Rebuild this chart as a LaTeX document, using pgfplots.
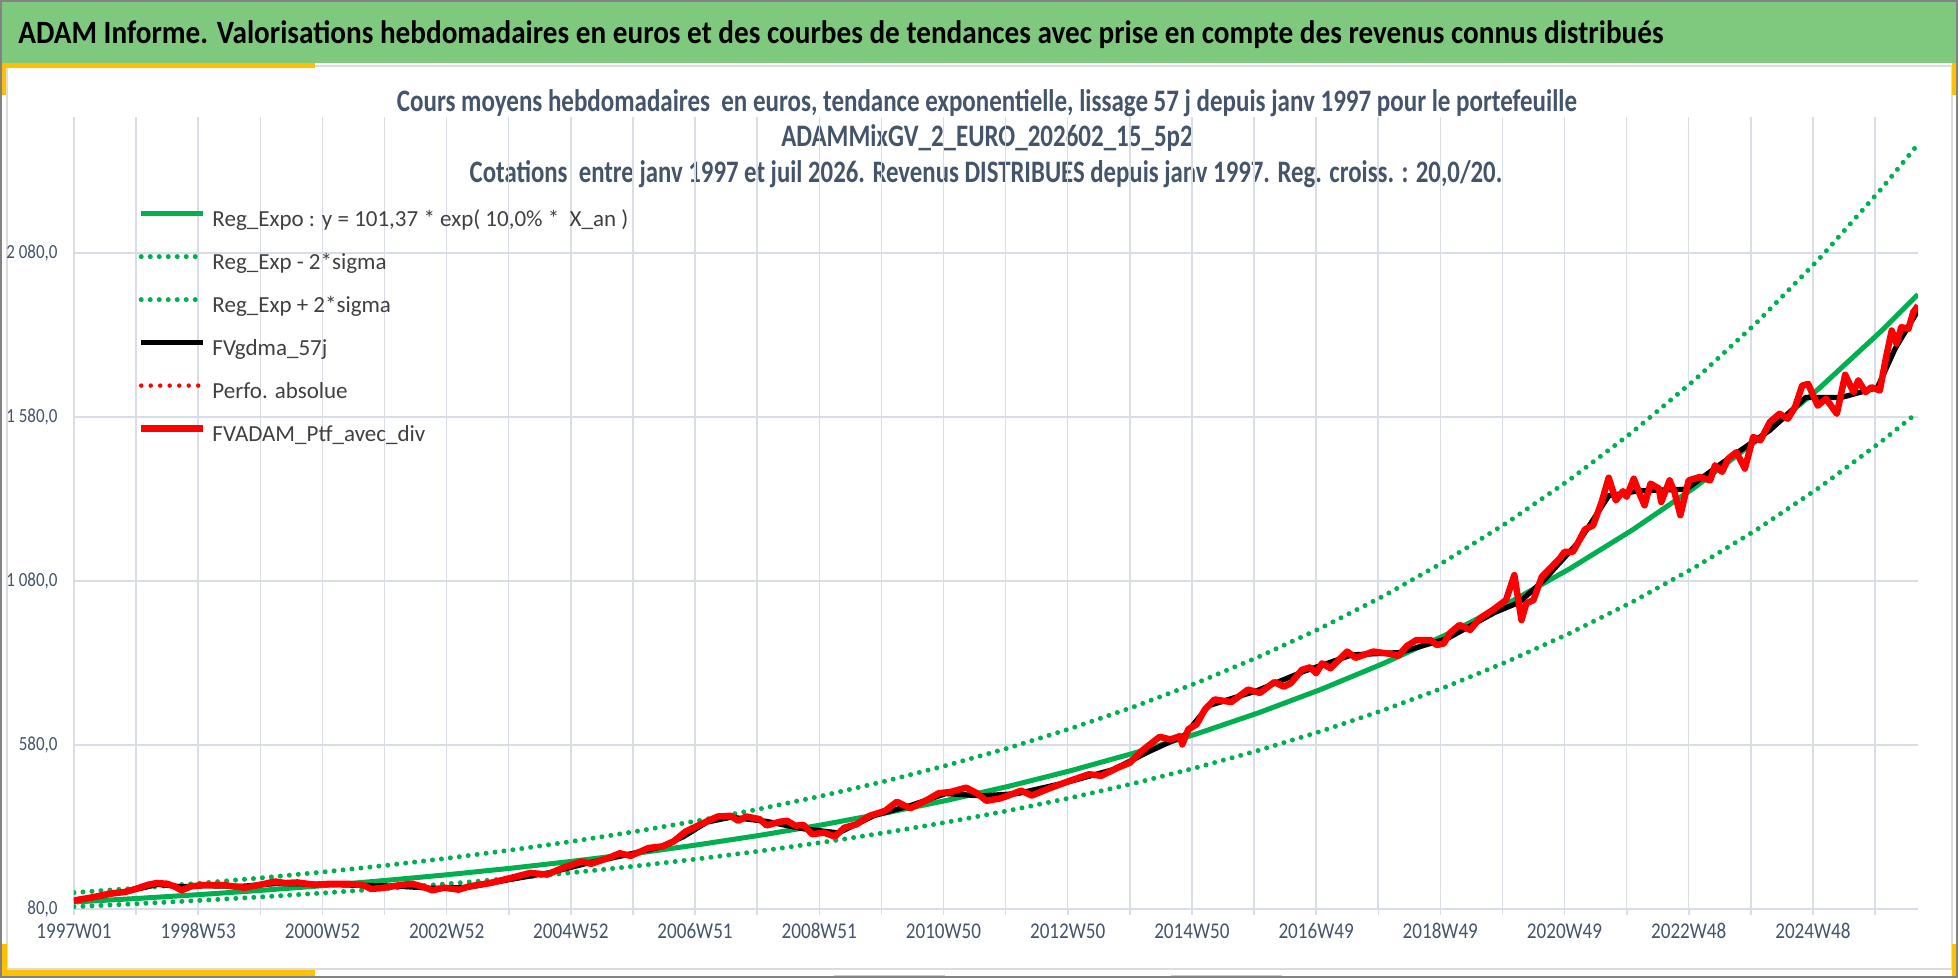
\documentclass[border=0pt]{standalone}
\usepackage{pgfplots}
\pgfplotsset{compat=1.18}
\usepackage{pgfplotstable}
\usepackage{graphicx}
\usepackage{fontspec}
\setmainfont{Carlito}
\newfontfamily\tickfont{Carlito}[FakeStretch=0.85]

\definecolor{bannergreen}{RGB}{127,201,127}
\definecolor{gold}{RGB}{255,192,0}
\definecolor{paleyellow}{RGB}{225,215,80}
\definecolor{gridc}{RGB}{217,221,229}
\definecolor{titlec}{RGB}{68,84,106}
\definecolor{legc}{RGB}{64,64,64}
\definecolor{xlgreen}{RGB}{0,176,80}
\definecolor{framec}{RGB}{130,130,130}
\definecolor{panelc}{RGB}{220,220,220}

\pgfplotstableread{
x y
0 101.37
52.18 112.03
104.36 123.81
156.54 136.83
208.72 151.23
260.9 167.13
313.08 184.71
365.26 204.13
417.44 225.60
469.62 249.33
521.8 275.55
573.98 304.53
626.16 336.56
678.34 371.96
730.52 411.07
782.7 454.31
834.88 502.09
887.06 554.89
939.24 613.25
991.42 677.75
1043.6 749.03
1095.78 827.80
1147.96 914.85
1200.14 1011.07
1252.32 1117.42
1304.5 1234.94
1356.68 1364.82
1408.86 1508.36
1461.04 1666.99
1513.22 1842.31
1544 1954.2
}\tblTrend

\pgfplotstableread{
x y
0 87.0
52.18 96.0
104.36 105.9
156.54 116.8
208.72 128.9
260.9 142.2
313.08 156.9
365.26 173.1
417.44 191.0
469.62 210.7
521.8 232.5
573.98 256.5
626.16 283.0
678.34 312.3
730.52 344.5
782.7 380.1
834.88 419.4
887.06 462.7
939.24 510.5
991.42 563.2
1043.6 621.4
1095.78 685.6
1147.96 756.4
1200.14 834.5
1252.32 920.7
1304.5 1015.8
1356.68 1120.8
1408.86 1236.6
1461.04 1364.3
1513.22 1505.2
1544 1595.0
}\tblLow

\pgfplotstableread{
x y
0 130.0
52.18 143.5
104.36 158.4
156.54 174.8
208.72 192.9
260.9 212.9
313.08 235.0
365.26 259.4
417.44 286.3
469.62 316.0
521.8 348.8
573.98 385.0
626.16 424.9
678.34 469.0
730.52 517.7
782.7 571.4
834.88 630.7
887.06 696.1
939.24 768.3
991.42 848.0
1043.6 936.0
1095.78 1033.1
1147.96 1140.3
1200.14 1258.6
1252.32 1389.1
1304.5 1533.2
1356.68 1692.3
1408.86 1867.9
1461.04 2061.6
1513.22 2275.5
1544 2412.2
}\tblUp

\pgfplotstableread{
x y
0 105
26 122
52 140
70 155
90 148
110 151
140 149
170 158
200 156
240 152
270 150
300 143
330 146
365 170
400 192
430 220
460 243
490 268
510 300
530 345
550 360
580 347
610 325
640 312
670 365
700 395
730 432
760 425
790 432
830 465
870 505
900 560
930 610
950 700
990 745
1030 805
1070 855
1110 862
1150 905
1190 985
1210 1015
1230 1080
1260 1200
1285 1340
1310 1355
1350 1360
1380 1440
1420 1540
1450 1640
1480 1640
1510 1670
1525 1790
1544 1905
}\tblSmooth

\pgfplotstableread{
x y
0 106
16 116
30 127
43 132
54 144
62 154
69 159
78 157
84 149
90 137
98 149
108 153
126 153
133 149
143 145
153 152
160 157
168 164
177 159
187 161
201 154
215 157
228 157
242 153
249 141
262 146
273 153
283 157
293 147
300 137
310 145
322 139
331 149
348 159
365 174
382 190
396 185
409 205
425 225
433 218
447 235
457 250
466 242
481 266
493 271
502 286
512 316
524 337
531 349
539 362
550 364
556 349
563 362
574 354
580 335
591 346
597 349
604 334
611 336
618 308
628 313
637 301
645 328
655 338
666 364
679 379
689 407
700 387
713 410
724 433
734 437
747 450
756 433
764 410
775 417
781 424
793 441
802 426
816 447
833 470
850 491
860 486
874 511
884 526
894 562
909 605
918 597
926 607
928 582
933 628
940 643
947 689
955 719
969 711
983 749
993 739
1005 772
1013 758
1019 769
1028 809
1035 817
1040 799
1045 829
1052 814
1066 865
1073 846
1088 865
1102 858
1109 852
1116 882
1124 900
1136 900
1141 885
1147 890
1152 921
1160 946
1169 931
1177 966
1188 992
1199 1022
1206 1098
1212 961
1216 1012
1222 1022
1229 1093
1236 1119
1244 1149
1248 1169
1255 1169
1259 1195
1265 1237
1272 1250
1279 1320
1285 1395
1291 1326
1297 1354
1300 1337
1306 1392
1311 1345
1315 1311
1320 1377
1327 1362
1329 1321
1336 1387
1340 1352
1345 1281
1352 1387
1361 1397
1370 1387
1374 1433
1380 1413
1385 1453
1392 1473
1399 1423
1406 1519
1412 1509
1420 1565
1428 1590
1435 1575
1441 1610
1447 1676
1452 1681
1460 1615
1467 1636
1476 1590
1483 1709
1490 1656
1494 1692
1500 1656
1505 1671
1512 1661
1517 1758
1522 1844
1526 1804
1530 1854
1536 1849
1540 1900
1544 1920
}\tblPtf

\begin{document}
\begin{tikzpicture}
\useasboundingbox (0,0) rectangle (783.2pt,391.2pt);
\begin{scope}[x=0.4pt,y=-0.4pt,yshift=391.2pt]
  \fill[white] (0,0) rectangle (1958,978);
  \fill[bannergreen] (0,0) rectangle (1958,63);
  \draw[panelc, line width=0.6pt] (7,66) rectangle (1952,969);
  \fill[gold] (0,63) rectangle (315,68);
  \fill[gold] (0,63) rectangle (6,95);
  \fill[gold] (0,944) rectangle (7,978);
  \fill[gold] (0,970) rectangle (315,978);
  \fill[gold] (1952,63) rectangle (1958,95);
  \fill[gold] (1952,944) rectangle (1958,978);
  \fill[paleyellow] (834,975) rectangle (945,978);
  \fill[paleyellow] (1171,975) rectangle (1282,978);
  \draw[framec, line width=0.8pt] (1,1) rectangle (1957,977);
  \foreach \k in {0,...,29} \draw[gridc, line width=0.6pt] ({74+62.11*\k},909) -- ({74+62.11*\k},915);
  \node[anchor=base west, inner sep=0pt, text=black] at (18,44)
    {\resizebox{658pt}{\height}{\fontsize{13}{15}\selectfont\bfseries ADAM Informe. Valorisations hebdomadaires en euros et des courbes de tendances avec prise en compte des revenus connus distribués}};
  \node[anchor=base, inner sep=0pt, text=titlec] at (987,111.5)
    {\resizebox{472pt}{\height}{\fontsize{12.5}{14}\selectfont\bfseries Cours moyens hebdomadaires\ \ en euros, tendance exponentielle, lissage 57 j depuis janv 1997 pour le portefeuille}};
  \node[anchor=base, inner sep=0pt, text=titlec] at (987,147)
    {\resizebox{164.6pt}{\height}{\fontsize{12.5}{14}\selectfont\bfseries ADAMMixGV\_2\_EURO\_202602\_15\_5p2}};
  \node[anchor=base, inner sep=0pt, text=titlec] at (986,183)
    {\resizebox{413pt}{\height}{\fontsize{12.5}{14}\selectfont\bfseries Cotations\ \ entre janv 1997 et juil 2026. Revenus DISTRIBUES depuis janv 1997. Reg. croiss. : 20,0/20.}};
\end{scope}

\begin{axis}[
  at={(29.6pt,27.6pt)}, anchor=south west,
  scale only axis, width=737.6pt, height=316.8pt,
  xmin=0, xmax=1544, ymin=80, ymax=2495,
  axis line style={draw=none},
  major tick length=0pt,
  xtick={0,52,...,1508},
  xticklabels={1997W01,,1998W53,,2000W52,,2002W52,,2004W52,,2006W51,,2008W51,,2010W50,,2012W50,,2014W50,,2016W49,,2018W49,,2020W49,,2022W48,,2024W48,},
  ytick={80,580,1080,1580,2080},
  yticklabels={{80,0},{580,0},{1 080,0},{1 580,0},{2 080,0}},
  grid=major,
  grid style={gridc, line width=0.6pt},
  xticklabel style={anchor=north, inner sep=0pt, yshift=-5.6pt, text=titlec, font=\tickfont\fontsize{9}{10.8}\selectfont},
  yticklabel style={anchor=east, inner sep=0pt, xshift=-6.4pt, text=titlec, font=\tickfont\fontsize{8}{9.6}\selectfont},
  legend cell align=left,
  legend image code/.code={\draw[#1] (0pt,2.9pt) -- (24.8pt,2.9pt);},
  legend style={at={(axis description cs:0.0347,0.8823)}, anchor=north west,
    draw=none, fill=none, inner sep=0pt, outer sep=0pt, row sep=8.7pt,
    font=\fontsize{9.2}{11}\selectfont, text=legc,
    nodes={inner sep=0pt, text height=6.5pt, text depth=2pt},
    /tikz/every odd column/.append style={column sep=2.4pt}},
]
\addplot[xlgreen, line width=2pt] table {\tblTrend};
\addlegendentry{Reg\_Expo : y = 101,37 * exp( 10,0\% *\ \ X\_an )}
\addplot[xlgreen, line width=2pt, line cap=round, dash pattern=on 0pt off 3.6pt] table {\tblLow};
\addlegendentry{Reg\_Exp - 2*sigma}
\addplot[xlgreen, line width=2pt, line cap=round, dash pattern=on 0pt off 3.6pt] table {\tblUp};
\addlegendentry{Reg\_Exp + 2*sigma}
\addplot[black, line width=2.1pt, line join=round] table {\tblSmooth};
\addlegendentry{FVgdma\_57j}
\addlegendimage{red, line width=1.8pt, line cap=round, dash pattern=on 0pt off 3.8pt}
\addlegendentry{Perfo. absolue}
\addplot[red, line width=2.6pt, line join=round] table {\tblPtf};
\addlegendentry{FVADAM\_Ptf\_avec\_div}
\end{axis}
\end{tikzpicture}
\end{document}
